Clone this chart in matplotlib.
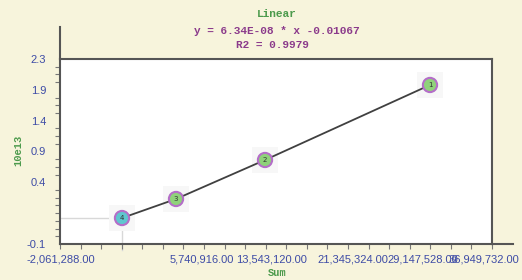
import matplotlib as mpl
mpl.use('Agg')
import matplotlib.pyplot as plt
import numpy as np

# calibration points (Sum vs response, 10e13)
pointIds = ['1', '2', '3', '4']
sumValues = [31351088, 16450976, 8413986, 3537599]
respValues = [1.963, 0.990, 0.484, 0.237]

xRange = (-2061288.0, 36949732.0)
yRange = (-0.1, 2.3)

xLabels = ['-2,061,288.00', '5,740,916.00', '13,543,120.00', '21,345,324.00', '29,147,528.00', '36,949,732.00']
xLabelPos = [-1970985, 10761738, 17082948, 24397491, 30718701, 36227181]
yLabels = ['2.3', '1.9', '1.4', '0.9', '0.4', '-0.1']
yLabelPos = [2.3, 1.9, 1.5, 1.1, 0.7, -0.1]

titleText = 'Linear'
eqText = 'y = 6.34E-08 * x -0.01067'
r2Text = 'R2 = 0.9979'

bgColor = '#f7f4dc'
tickBlue = '#3d4ba6'
green = '#4c9a4c'
purple = '#8b3a8b'

fg = plt.figure(figsize=(5.22, 2.8), dpi=100, facecolor=bgColor)
ax = fg.add_axes([60/522, 36/280, 432/522, 185/280])
ax.set_facecolor('white')
ax.set_xlim(xRange)
ax.set_ylim(yRange)

for s in ax.spines.values():
    s.set_color('#555555')
    s.set_linewidth(1.5)

# extended axis lines
ax.plot([0, 0], [1, 1.173], transform=ax.transAxes, color='#555555', lw=1.5, clip_on=False)
ax.plot([1, 1.049], [0, 0], transform=ax.transAxes, color='#555555', lw=1.5, clip_on=False)

# minor tick marks
ax.set_xticks(np.linspace(xRange[0], xRange[1], 22), minor=True)
ax.set_yticks(np.linspace(yRange[0], yRange[1], 25), minor=True)
ax.tick_params(which='minor', length=3.6, width=0.8, color='#777777')
ax.set_xticks([])
ax.set_yticks(yLabelPos)
ax.set_yticklabels(yLabels, fontsize=8, color=tickBlue, family='Liberation Sans')
ax.tick_params(axis='y', which='major', length=0, pad=10)

for pos, lab in zip(xLabelPos, xLabels):
    ax.text(pos, -0.086, lab, transform=ax.get_xaxis_transform(), ha='center', va='center',
            fontsize=8, color=tickBlue, family='Liberation Sans', clip_on=False)

# guide lines at the lowest point
ax.plot([xRange[0], sumValues[3]], [respValues[3], respValues[3]], color='#d8d8d8', lw=1, zorder=1)
ax.plot([sumValues[3], sumValues[3]], [respValues[3], yRange[0] - 0.08], color='#d8d8d8', lw=1,
        zorder=1, clip_on=False)

# fit line and points
ax.plot(sumValues, respValues, color='#404040', lw=1.3, zorder=2)
ax.scatter(sumValues, respValues, s=330, marker='s', color='#f7f7f7', zorder=1.5, linewidths=0)
faceCols = ['#8fd27a', '#8fd27a', '#8fd27a', '#5fc6cf']
ax.scatter(sumValues, respValues, s=105, c=faceCols, edgecolors='#b46ec8', linewidths=1.5, zorder=3)
for i, j, k in zip(sumValues, respValues, pointIds):
    ax.text(i, j, k, ha='center', va='center', fontsize=5, color='#333333', zorder=4)

fg.text(277/522, 1 - 14/280, titleText, ha='center', va='center', fontsize=8, color=green,
        family='Liberation Mono', weight='bold')
fg.text(277/522, 1 - 31/280, eqText, ha='center', va='center', fontsize=8, color=purple,
        family='Liberation Mono', weight='bold')
fg.text(272/522, 1 - 45/280, r2Text, ha='center', va='center', fontsize=8, color=purple,
        family='Liberation Mono', weight='bold')

fg.text(18/522, 1 - 150/280, '10e13', ha='center', va='center', rotation=90, fontsize=7.5,
        color=green, family='Liberation Mono', weight='bold')
fg.text(277/522, 1 - 273/280, 'Sum', ha='center', va='center', fontsize=7.5, color=green,
        family='Liberation Mono', weight='bold')

fg.savefig('out.png', dpi=100, facecolor=bgColor)
